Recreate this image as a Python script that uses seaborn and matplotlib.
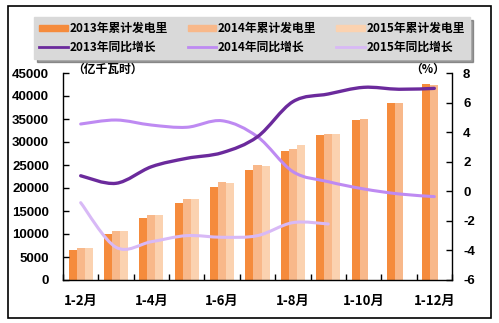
import numpy as np
import pandas as pd
import matplotlib
matplotlib.use("Agg")
import matplotlib.pyplot as plt
import seaborn as sns
from matplotlib.path import Path
from matplotlib.patches import PathPatch, Rectangle
from matplotlib.lines import Line2D

# ---------------- data ----------------
categories = ["1-2月", "1-3月", "1-4月", "1-5月", "1-6月", "1-7月",
              "1-8月", "1-9月", "1-10月", "1-11月", "1-12月"]
gen_2013 = [6520, 10000, 13480, 16740, 20220, 23910, 28040, 31520, 34780, 38480, 42610]
gen_2014 = [6960, 10650, 14130, 17610, 21300, 25000, 28480, 31740, 35000, 38480, 42390]
gen_2015 = [6960, 10650, 14130, 17610, 21090, 24780, 29350, 31740, np.nan, np.nan, np.nan]
yoy_2013 = [1.05, 0.54, 1.66, 2.23, 2.61, 3.69, 6.06, 6.58, 7.03, 6.90, 6.96]
yoy_2014 = [4.55, 4.82, 4.48, 4.33, 4.77, 3.69, 1.33, 0.65, 0.16, -0.18, -0.36]
yoy_2015 = [-0.77, -3.79, -3.41, -3.00, -3.11, -3.00, -2.12, -2.21]
bar_labels = ["2013年累计发电里", "2014年累计发电里", "2015年累计发电里"]
line_labels = ["2013年同比增长", "2014年同比增长", "2015年同比增长"]
left_ticks = list(range(0, 45001, 5000))
right_ticks = list(range(-6, 9, 2))

bar_colors = ["#F58B3C", "#F8B88A", "#FBD2B0"]
line_colors = ["#6B2A9C", "#BE8AF2", "#D8B9F6"]

df = pd.DataFrame({
    "cat": categories * 3,
    "year": [bar_labels[0]] * 11 + [bar_labels[1]] * 11 + [bar_labels[2]] * 11,
    "val": gen_2013 + gen_2014 + gen_2015,
})

cjk = ["Noto Sans CJK SC", "DejaVu Sans"]
plt.rcParams["font.family"] = cjk

fig = plt.figure(figsize=(4.99, 3.23), dpi=100)
ax = fig.add_axes([63 / 499, 1 - 280 / 323, (452 - 63) / 499, (280 - 73) / 323])

sns.barplot(data=df, x="cat", y="val", hue="year", palette=bar_colors,
            width=0.68, gap=0, saturation=1, ax=ax, legend=False, edgecolor="none")

ax.set_xlim(-0.5, 10.5)
ax.set_ylim(0, 45000)
ax.set_yticks(left_ticks)
ax.set_yticklabels([str(t) for t in left_ticks], fontfamily="Liberation Sans",
                   fontweight="bold", fontsize=9.5)
ax.set_xticks(range(0, 11, 2))
ax.set_xticklabels([categories[i] for i in range(0, 11, 2)], fontweight="bold", fontsize=9.5)
ax.set_xticks(np.arange(-0.5, 11, 1), minor=True)
ax.tick_params(axis="x", which="major", length=0, pad=10)
ax.tick_params(axis="x", which="minor", direction="in", length=4, width=1)
ax.tick_params(axis="y", direction="in", length=4, width=1, pad=10)
ax.set_xlabel("")
ax.set_ylabel("")
for s in ["top", "right"]:
    ax.spines[s].set_visible(False)
ax.spines["left"].set_linewidth(1)
ax.spines["bottom"].set_linewidth(1)

ax2 = ax.twinx()
ax2.set_ylim(-6, 8)
ax2.set_yticks(right_ticks)
ax2.set_yticklabels([str(t) for t in right_ticks], fontfamily="Liberation Sans",
                    fontweight="bold", fontsize=9.5)
ax2.tick_params(axis="y", direction="in", length=4, width=1, pad=8)
for s in ["top", "left", "bottom"]:
    ax2.spines[s].set_visible(False)
ax2.spines["right"].set_linewidth(1)


def smooth_path(ys):
    xs = np.arange(len(ys), dtype=float)
    pts = np.column_stack([xs, np.asarray(ys, dtype=float)])
    n = len(pts)
    verts = [pts[0]]
    codes = [Path.MOVETO]
    for i in range(n - 1):
        p0 = pts[i - 1] if i > 0 else pts[i]
        p1 = pts[i]
        p2 = pts[i + 1]
        p3 = pts[i + 2] if i + 2 < n else pts[i + 1]
        c1 = p1 + (p2 - p0) / 6.0
        c2 = p2 - (p3 - p1) / 6.0
        verts += [c1, c2, p2]
        codes += [Path.CURVE4] * 3
    return Path(verts, codes)


for ys, c, lw in zip([yoy_2015, yoy_2014, yoy_2013], line_colors[::-1], [2.2, 2.2, 2.4]):
    ax2.add_patch(PathPatch(smooth_path(ys), facecolor="none", edgecolor=c, lw=lw,
                            capstyle="round", joinstyle="round"))

fig.text(72 / 499, 1 - 69 / 323, "（亿千瓦时）", fontsize=8.5, fontweight="bold",
         va="center", ha="left")
fig.text(410 / 499, 1 - 69 / 323, "（%）", fontsize=8.5, fontweight="bold",
         va="center", ha="left")

handles = []
labels = []
for i in range(3):
    handles.append(Rectangle((0, 0), 1, 1, color=bar_colors[i]))
    labels.append(bar_labels[i])
    handles.append(Line2D([], [], color=line_colors[i], lw=2))
    labels.append(line_labels[i])
leg = fig.legend(handles, labels, ncol=3, loc="upper left",
                 bbox_to_anchor=(28 / 499, 1 - 11 / 323), frameon=True,
                 fancybox=False, shadow=True, facecolor="#D9D9D9", edgecolor="#D9D9D9",
                 framealpha=1, prop={"weight": "bold", "size": 8.5, "family": cjk},
                 handlelength=2.4, handleheight=0.35, handletextpad=0.15,
                 columnspacing=1.7, labelspacing=0.45, borderpad=0.45)

border = Rectangle((7.5 / 499, 5.5 / 323), (491 - 7.5) / 499, (317 - 5.5) / 323,
                   transform=fig.transFigure, fill=False, edgecolor="black",
                   lw=1.2, zorder=20, clip_on=False)
fig.add_artist(border)

fig.savefig("out.png", dpi=100)
